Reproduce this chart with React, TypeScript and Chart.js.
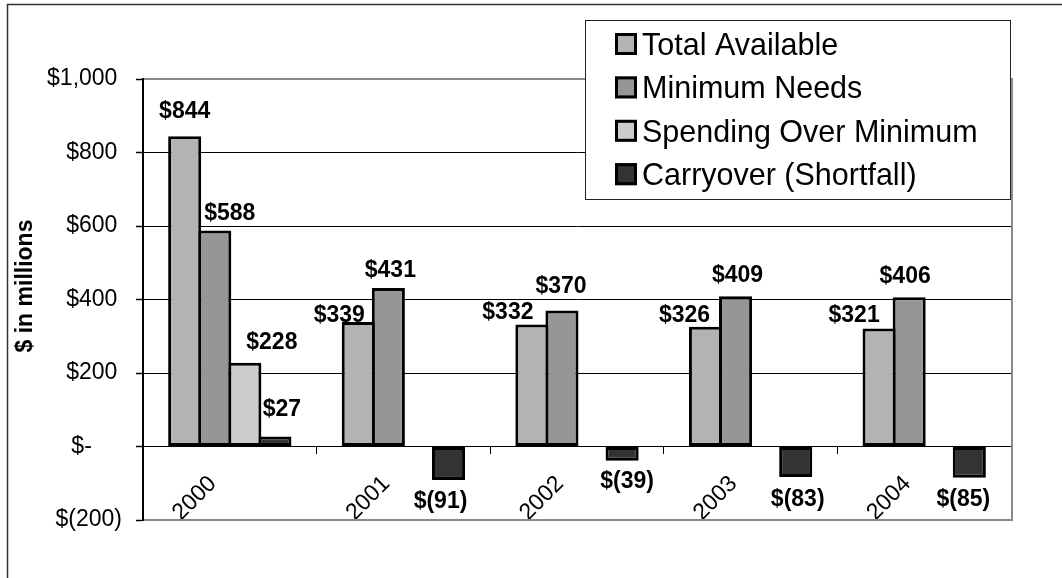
import React, { useEffect, useRef } from 'react';
import { Chart, registerables } from 'chart.js';

Chart.register(...registerables);

const FONT = '"Liberation Sans", Arial, Helvetica, sans-serif';

// ---- data ----
const categories = ['2000', '2001', '2002', '2003', '2004'];
const seriesNames = ['Total Available', 'Minimum Needs', 'Spending Over Minimum', 'Carryover (Shortfall)'];
const totalAvailable = [844, 339, 332, 326, 321];
const minimumNeeds = [588, 431, 370, 409, 406];
const spendingOverMinimum: (number | null)[] = [228, null, null, null, null];
const carryoverShortfall = [27, -91, -39, -83, -85];
const yMin = -200;
const yMax = 1000;
const yStep = 200;
const yAxisTitle = '$ in millions';

// ---- style ----
const seriesColors = ['#b3b3b3', '#969696', '#cccccc', '#333333'];
// per-label nudge: [dx from bar centre, gap from bar end]
const labelNudges: ([number, number] | null)[][] = [
  [[0, 18], [-19, 0], [-24, 5.5], [-21, 5], [-25, 7]],
  [[15, 10.7], [2, 11.4], [-1, 18], [2, 14.5], [-4, 14]],
  [[27, 14], null, null, null, null],
  [[7, 20.6], [-8, 11.7], [5, 11], [2, 12], [-6, 12]],
];

const fmtTick = (v: number) => {
  if (v === 0) return '$-\u2007\u2007\u2009';
  if (v < 0) return '$(' + Math.abs(v).toLocaleString('en-US') + ')';
  return '$' + v.toLocaleString('en-US') + '\u2009';
};
const fmtLabel = (v: number) => (v < 0 ? '$(' + Math.abs(v) + ')' : '$' + v);

const decorPlugin = {
  id: 'decor',
  beforeDatasetsDraw(chart: any) {
    const { ctx, chartArea: a } = chart;
    ctx.save();
    ctx.strokeStyle = '#8a8a8a';
    ctx.lineWidth = 2;
    ctx.beginPath();
    ctx.moveTo(a.left + 1, a.top);
    ctx.lineTo(a.right + 1, a.top);
    ctx.lineTo(a.right + 1, a.bottom);
    ctx.lineTo(a.left + 1, a.bottom);
    ctx.stroke();
    ctx.restore();
  },
  afterDatasetsDraw(chart: any) {
    const { ctx } = chart;
    ctx.save();
    ctx.font = 'bold 23px ' + FONT;
    ctx.fillStyle = '#000';
    ctx.textAlign = 'center';
    ctx.textBaseline = 'alphabetic';
    chart.data.datasets.forEach((ds: any, di: number) => {
      const meta = chart.getDatasetMeta(di);
      ds.data.forEach((v: number | null, i: number) => {
        if (v === null || v === undefined) return;
        const el: any = meta.data[i];
        const n = labelNudges[di][i] || [0, 10];
        const x = el.x + n[0];
        const y = v >= 0 ? el.y - n[1] : el.y + n[1] + 16.5;
        ctx.fillText(fmtLabel(v), x, y);
      });
    });
    ctx.restore();
  },
  afterDraw(chart: any) {
    const { ctx } = chart;
    ctx.save();
    // outer frame (top & left visible)
    ctx.strokeStyle = '#333';
    ctx.lineWidth = 1.5;
    ctx.beginPath();
    ctx.moveTo(7.5, 578);
    ctx.lineTo(7.5, 4.5);
    ctx.lineTo(1062, 4.5);
    ctx.stroke();

    // y axis title
    ctx.save();
    ctx.translate(26, 286);
    ctx.rotate(-Math.PI / 2);
    ctx.font = 'bold 23px ' + FONT;
    ctx.fillStyle = '#000';
    ctx.textAlign = 'center';
    ctx.textBaseline = 'middle';
    ctx.fillText(yAxisTitle, 0, 0);
    ctx.restore();

    // legend
    const lx = 585, ly = 20, lw = 426, lh = 180;
    ctx.fillStyle = '#fff';
    ctx.fillRect(lx, ly, lw, lh);
    ctx.strokeStyle = '#222';
    ctx.lineWidth = 1;
    ctx.strokeRect(lx + 0.5, ly + 0.5, lw - 1, lh - 1);
    ctx.font = '30.5px ' + FONT;
    ctx.textAlign = 'left';
    ctx.textBaseline = 'alphabetic';
    chart.data.datasets.forEach((ds: any, i: number) => {
      const base = 55 + i * 43.4;
      ctx.fillStyle = ds.backgroundColor;
      ctx.fillRect(615, base - 22, 22, 22);
      ctx.strokeStyle = '#000';
      ctx.lineWidth = 3;
      ctx.strokeRect(616.5, base - 20.5, 19, 19);
      ctx.fillStyle = '#000';
      ctx.fillText(ds.label, 642, base);
    });
    ctx.restore();
  },
};

export default function App() {
  const ref = useRef<HTMLCanvasElement | null>(null);
  useEffect(() => {
    if (!ref.current) return;
    const seriesValues = [totalAvailable, minimumNeeds, spendingOverMinimum, carryoverShortfall];
    const chart = new Chart(ref.current, {
      type: 'bar',
      data: {
        labels: categories,
        datasets: seriesValues.map((vals, i) => ({
          label: seriesNames[i],
          data: vals,
          backgroundColor: seriesColors[i],
          borderColor: '#000',
          borderWidth: 3,
          borderSkipped: false,
          barPercentage: 1.1,
          categoryPercentage: 0.693,
        })),
      },
      options: {
        animation: false,
        responsive: false,
        maintainAspectRatio: false,
        layout: { padding: { top: 79, right: 51, bottom: 58, left: 0 } },
        plugins: {
          legend: { display: false },
          title: { display: false },
          tooltip: { enabled: false },
        },
        scales: {
          x: {
            position: { y: 0 } as any,
            offset: true,
            grid: {
              display: true,
              drawOnChartArea: false,
              drawTicks: true,
              tickLength: 7,
              tickColor: '#000',
              tickWidth: 1,
              offset: true,
            },
            border: { display: true, color: '#000', width: 1 },
            ticks: {
              minRotation: 45,
              maxRotation: 45,
              autoSkip: false,
              padding: 17,
              labelOffset: -17,
              color: '#000',
              font: { family: FONT, size: 23 },
            },
          },
          y: {
            min: yMin,
            max: yMax,
            afterFit: (s: any) => {
              s.width = 143;
            },
            ticks: {
              stepSize: yStep,
              callback: (v: any) => fmtTick(Number(v)),
              padding: 14,
              color: '#000',
              font: { family: FONT, size: 23 },
            },
            grid: {
              color: (c: any) =>
                c.tick && (c.tick.value === yMax || c.tick.value === yMin) ? 'rgba(0,0,0,0)' : '#000',
              lineWidth: 1,
              tickColor: '#000',
              tickLength: 7,
              tickWidth: 1.5,
            },
            border: { display: true, color: '#000', width: 2 },
          },
        },
      },
      plugins: [decorPlugin],
    });
    return () => chart.destroy();
  }, []);
  return (
    <div style={{ position: 'fixed', left: 0, top: 0, width: 1062, height: 578, background: '#fff' }}>
      <canvas ref={ref} width={1062} height={578} style={{ display: 'block' }} />
    </div>
  );
}
